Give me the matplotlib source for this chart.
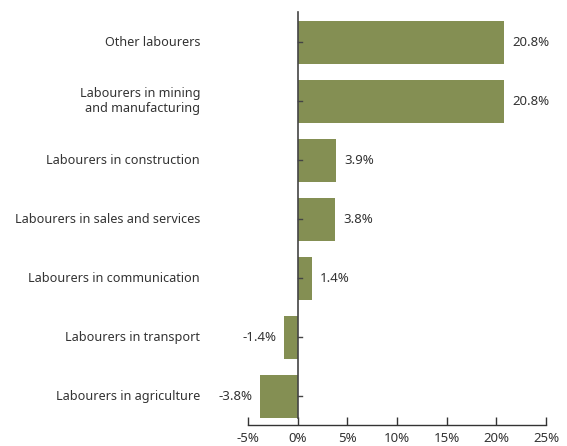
import matplotlib.pyplot as plt
from matplotlib.ticker import FuncFormatter

categories = ['Labourers in agriculture', 'Labourers in transport',
              'Labourers in communication', 'Labourers in sales and services',
              'Labourers in construction', 'Labourers in mining\nand manufacturing',
              'Other labourers']
values = [-3.8, -1.4, 1.4, 3.8, 3.9, 20.8, 20.8]
xticks = [-5, 0, 5, 10, 15, 20, 25]

bar_color = '#848f53'
text_color = '#333333'
plt.rcParams['font.family'] = ['Noto Sans', 'DejaVu Sans']

fig = plt.figure(figsize=(5.67, 4.46), dpi=100)
ax = fig.add_axes([248 / 567, 21 / 446, 298 / 567, 413 / 446])

ypos = list(range(len(categories)))
ax.barh(ypos, values, height=0.73, color=bar_color, zorder=2)

ax.set_xlim(-5, 25)
ax.set_ylim(-0.49, 6.51)

for y, v in zip(ypos, values):
    if v >= 0:
        ax.annotate(f'{v:.1f}%', (v, y), xytext=(6, 0), textcoords='offset points',
                    ha='left', va='center', fontsize=9.5, color=text_color)
    else:
        ax.annotate(f'{v:.1f}%', (v, y), xytext=(-5, 0), textcoords='offset points',
                    ha='right', va='center', fontsize=9.5, color=text_color)

# category labels, right aligned at a fixed x left of the plot
for y, c in zip(ypos, categories):
    ax.text(-0.161, y, c, transform=ax.get_yaxis_transform(), ha='right',
            va='center', fontsize=9.1, color=text_color, multialignment='right',
            linespacing=1.25)

ax.spines['top'].set_visible(False)
ax.spines['right'].set_visible(False)
ax.spines['left'].set_position(('data', 0))
ax.spines['left'].set_bounds(-0.37, 6.51)
ax.spines['left'].set_color('#444444')
ax.spines['left'].set_linewidth(1.2)
ax.spines['bottom'].set_color('#333333')
ax.spines['bottom'].set_linewidth(1.0)

ax.set_yticks(ypos)
ax.set_yticklabels([])
ax.tick_params(axis='y', left=False, right=False)
# ticks on the zero line point right
for y in ypos:
    ax.plot([0, 0.4], [y, y], color='#444444', lw=1, zorder=3, clip_on=False)

ax.set_xticks(xticks)
ax.xaxis.set_major_formatter(FuncFormatter(lambda x, p: f'{x:.0f}%'))
ax.tick_params(axis='x', direction='in', length=6, width=1, color='#333333',
               labelsize=9.5, labelcolor=text_color, pad=5)

fig.savefig('out.png', dpi=100)
